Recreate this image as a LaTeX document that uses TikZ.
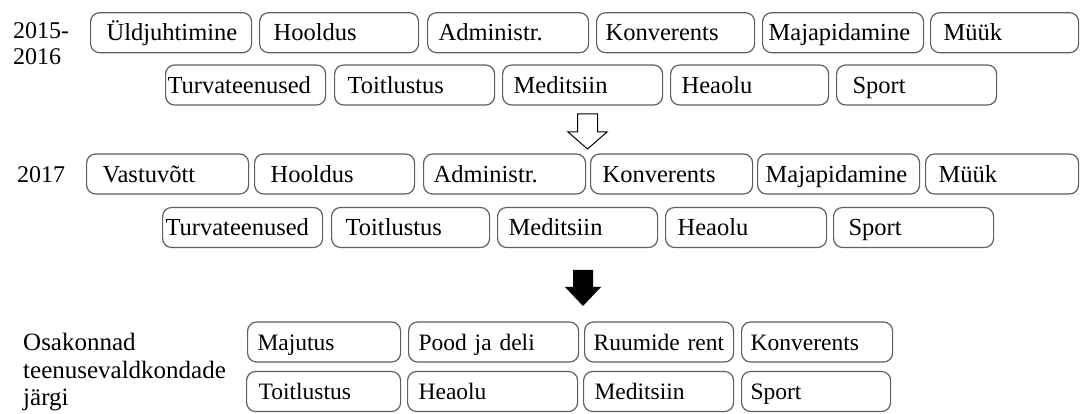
\documentclass[tikz,border=0pt]{standalone}
\usepackage{fontspec}
\setmainfont{Liberation Serif}
\definecolor{boxgray}{RGB}{95,95,95}
\tikzset{
  box/.style={draw=boxgray, line width=1.2pt, rounded corners=9pt, anchor=west,
    align=left, inner ysep=0pt, minimum height=40pt, text height=16.5pt, text depth=0pt},
  upf/.style={font=\fontsize{24.5}{28}\selectfont},
  lowf/.style={font=\fontsize{23.5}{28}\selectfont},
  lbl/.style={align=left, inner sep=0pt, anchor=base west},
  openarrow/.style={draw=black, line width=1pt, fill=white},
  fullarrow/.style={fill=black}
}
% style, name, x0, x1, cy, inset, text
\newcommand\bxnode[7]{%
  \pgfmathsetmacro\bxwidth{#4-#3-2*#6}%
  \node[box,#1, inner xsep=#6pt, text width=\bxwidth pt] (#2) at (#3,#5) {\mbox{#7}};}
\begin{document}
\begin{tikzpicture}[x=1pt,y=-1pt]
\useasboundingbox (0,0) rectangle (1080,414);
% labels (base anchor = last line)
\node[lbl, font=\fontsize{24}{26.5}\selectfont] (lab1) at (13,65) {2015-\\2016};
\node[lbl, font=\fontsize{24}{26.5}\selectfont] (lab2) at (17,183) {2017};
\node[lbl, font=\fontsize{25}{28}\selectfont] (lab3) at (23,406) {Osakonnad\\teenusevaldkondade\\järgi};
% row 1
\bxnode{upf}{a1}{90}{251}{32.7}{16}{Üldjuhtimine}
\bxnode{upf}{a2}{259}{418}{32.7}{14}{Hooldus}
\bxnode{upf}{a3}{427}{588}{32.7}{11}{Administr.}
\bxnode{upf}{a4}{596}{754}{32.7}{9}{Konverents}
\bxnode{upf}{a5}{762}{923}{32.7}{6}{Majapidamine}
\bxnode{upf}{a6}{930}{1078}{32.7}{13}{Müük}
% row 2
\bxnode{upf}{b1}{165}{325}{85}{2}{Turvateenused}
\bxnode{upf}{b2}{334}{494}{85}{13}{Toitlustus}
\bxnode{upf}{b3}{502}{662}{85}{11}{Meditsiin}
\bxnode{upf}{b4}{670}{828}{85}{11}{Heaolu}
\bxnode{upf}{b5}{836}{996}{85}{16}{Sport}
% row 3
\bxnode{upf}{c1}{86}{248}{174}{16}{Vastuvõtt}
\bxnode{upf}{c2}{254}{414}{174}{16}{Hooldus}
\bxnode{upf}{c3}{423}{585}{174}{10}{Administr.}
\bxnode{upf}{c4}{590}{752}{174}{12}{Konverents}
\bxnode{upf}{c5}{757}{919}{174}{8}{Majapidamine}
\bxnode{upf}{c6}{925}{1078}{174}{13}{Müük}
% row 4
\bxnode{upf}{d1}{162}{322}{227.5}{3}{Turvateenused}
\bxnode{upf}{d2}{331}{489}{227.5}{14}{Toitlustus}
\bxnode{upf}{d3}{497}{657}{227.5}{11}{Meditsiin}
\bxnode{upf}{d4}{665}{826}{227.5}{12}{Heaolu}
\bxnode{upf}{d5}{833}{993}{227.5}{15}{Sport}
% row 5
\bxnode{lowf}{e1}{247}{400}{342}{10}{Majutus}
\bxnode{lowf}{e2}{408}{578}{342}{10}{Pood ja deli}
\bxnode{lowf}{e3}{584}{733}{342}{9}{Ruumide rent}
\bxnode{lowf}{e4}{741}{892}{342}{9}{Konverents}
% row 6
\bxnode{lowf}{f1}{246}{400}{391.5}{12}{Toitlustus}
\bxnode{lowf}{f2}{407}{577}{391.5}{11}{Heaolu}
\bxnode{lowf}{f3}{583}{733}{391.5}{11}{Meditsiin}
\bxnode{lowf}{f4}{741}{890}{391.5}{9}{Sport}
% arrows
\draw[openarrow] (577.5,114) -- (597.5,114) -- (597.5,132) -- (607,132) -- (587.5,149)
  -- (568,132) -- (577.5,132) -- cycle;
\fill[fullarrow] (573,270) -- (593,270) -- (593,287) -- (601,287) -- (583,306)
  -- (565,287) -- (573,287) -- cycle;
\end{tikzpicture}
\end{document}
